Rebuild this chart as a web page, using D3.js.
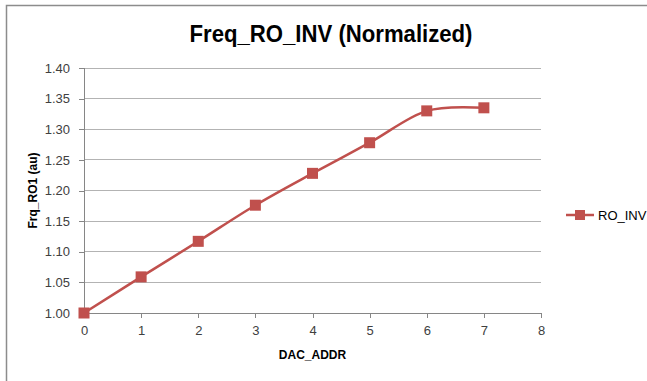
<!DOCTYPE html>
<html>
<head>
<meta charset="utf-8" />
<title>Freq_RO_INV (Normalized)</title>
<script src="https://d3js.org/d3.v7.min.js"></script>
<style>
  body { margin: 0; background: #fff; }
  .axis text { fill: #404040; font-family: "Liberation Sans Narrow", "Liberation Sans", Arial, sans-serif; font-size: 13px; }
  .axis path, .axis line { stroke: #868686; shape-rendering: crispEdges; }
  .grid line { stroke: #b3b3b3; shape-rendering: crispEdges; }
</style>
</head>
<body>
<div id="chart"></div>
<script>
  // chart data
  var dacAddr = [0, 1, 2, 3, 4, 5, 6, 7];
  var roInv = [1.000, 1.059, 1.117, 1.176, 1.228, 1.278, 1.330, 1.335];
  var xTicks = [0, 1, 2, 3, 4, 5, 6, 7, 8];
  var yTicks = [1.00, 1.05, 1.10, 1.15, 1.20, 1.25, 1.30, 1.35, 1.40];
  var seriesName = "RO_INV";

  var W = 647, H = 381;
  var margin = { top: 68, left: 84, right: 106, bottom: 68 };
  var width = W - margin.left - margin.right,
      height = H - margin.top - margin.bottom;

  var svg = d3.select("#chart").append("svg")
    .attr("width", W).attr("height", H);

  // outer frame
  svg.append("rect")
    .attr("x", 6.5).attr("y", 5.5)
    .attr("width", W).attr("height", H)
    .attr("fill", "none").attr("stroke", "#8c8c8c").attr("stroke-width", 1.5);

  svg.append("text")
    .attr("x", 331).attr("y", 42)
    .attr("text-anchor", "middle")
    .attr("font-family", "'Liberation Sans Narrow', 'Liberation Sans', Arial, sans-serif")
    .attr("font-weight", "bold").attr("font-size", 24)
    .attr("textLength", 283).attr("lengthAdjust", "spacingAndGlyphs")
    .attr("fill", "#000")
    .text("Freq_RO_INV (Normalized)");

  var g = svg.append("g")
    .attr("transform", "translate(" + margin.left + "," + margin.top + ")");

  var x = d3.scaleLinear().domain([0, 8]).range([0, width]);
  var y = d3.scaleLinear().domain([1.0, 1.4]).range([height, 0]);

  g.append("g").attr("class", "grid")
    .selectAll("line").data(yTicks.slice(1)).enter().append("line")
    .attr("x1", 0).attr("x2", width)
    .attr("y1", function (d) { return y(d); })
    .attr("y2", function (d) { return y(d); });

  g.append("g").attr("class", "axis")
    .call(d3.axisLeft(y).tickValues(yTicks).tickFormat(d3.format(".2f")).tickSize(5).tickPadding(9));

  g.append("g").attr("class", "axis")
    .attr("transform", "translate(0," + height + ")")
    .call(d3.axisBottom(x).tickValues(xTicks).tickFormat(d3.format("d")).tickSize(5).tickPadding(8));

  var pts = dacAddr.map(function (d, i) { return [d, roInv[i]]; });

  var line = d3.line()
    .x(function (d) { return x(d[0]); })
    .y(function (d) { return y(d[1]); })
    .curve(d3.curveCatmullRom.alpha(0));

  g.append("path").datum(pts)
    .attr("fill", "none").attr("stroke", "#c0504d")
    .attr("stroke-width", 2.5).attr("d", line);

  g.selectAll(".dot").data(pts).enter().append("rect")
    .attr("class", "dot")
    .attr("x", function (d) { return x(d[0]) - 5.5; })
    .attr("y", function (d) { return y(d[1]) - 5.5; })
    .attr("width", 11).attr("height", 11)
    .attr("fill", "#c0504d");

  // axis titles
  svg.append("text")
    .attr("transform", "translate(37," + (margin.top + height / 2) + ") rotate(-90)")
    .attr("text-anchor", "middle")
    .attr("font-family", "'Liberation Sans Narrow', 'Liberation Sans', Arial, sans-serif")
    .attr("font-weight", "bold").attr("font-size", 12)
    .text("Frq_RO1 (au)");

  svg.append("text")
    .attr("x", margin.left + width / 2 - 0).attr("y", 359)
    .attr("text-anchor", "middle")
    .attr("font-family", "'Liberation Sans Narrow', 'Liberation Sans', Arial, sans-serif")
    .attr("font-weight", "bold").attr("font-size", 12)
    .text("DAC_ADDR");

  // legend
  var lg = svg.append("g").attr("transform", "translate(566,215)");
  lg.append("line").attr("x1", 0).attr("x2", 28).attr("y1", 0).attr("y2", 0)
    .attr("stroke", "#c0504d").attr("stroke-width", 2.5);
  lg.append("rect").attr("x", 9).attr("y", -5).attr("width", 10).attr("height", 10)
    .attr("fill", "#c0504d");
  lg.append("text").attr("x", 32).attr("y", 5)
    .attr("font-family", "'Liberation Sans Narrow', 'Liberation Sans', Arial, sans-serif")
    .attr("font-size", 13).attr("fill", "#000")
    .text(seriesName);
</script>
</body>
</html>
